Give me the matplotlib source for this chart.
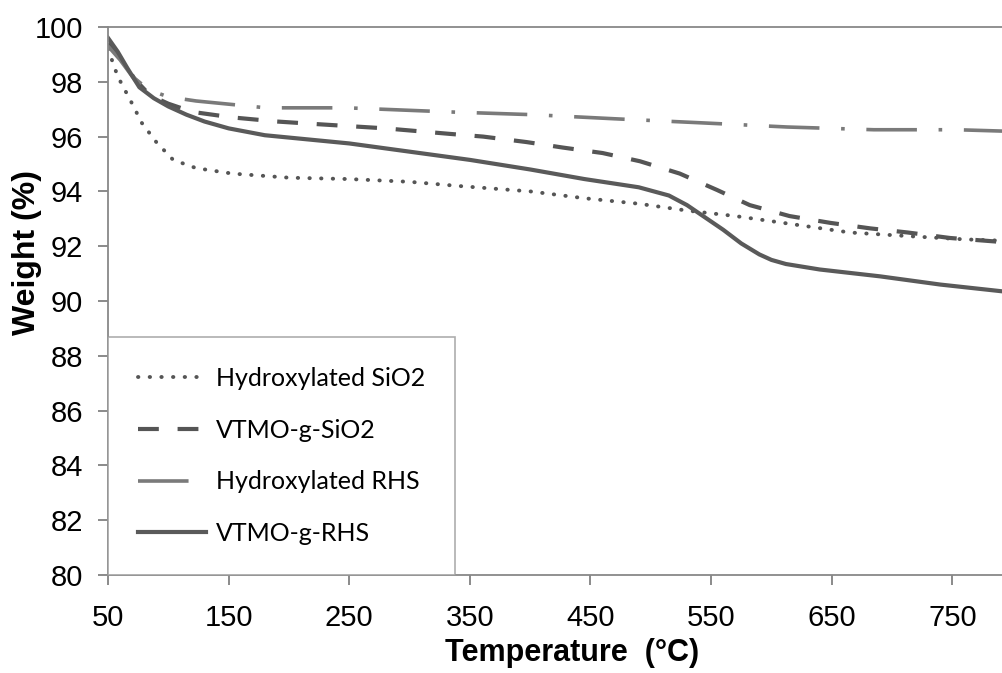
import matplotlib
matplotlib.use("Agg")
import matplotlib.pyplot as plt

# VTMO-g-RHS (solid)
rhs_g_x = [50, 58, 66, 76, 88, 100, 115, 130, 150, 180, 215, 250, 300, 350, 400, 445, 490,
           515, 530, 545, 560, 575, 590, 600, 612, 640, 690, 740, 792]
rhs_g_y = [99.6, 99.1, 98.5, 97.8, 97.4, 97.1, 96.8, 96.55, 96.3, 96.05, 95.9, 95.75, 95.45,
           95.15, 94.8, 94.45, 94.15, 93.85, 93.5, 93.05, 92.6, 92.1, 91.7, 91.5, 91.35,
           91.15, 90.9, 90.6, 90.35]

# Hydroxylated SiO2 (dotted)
sio2_x = [50, 58, 64, 70, 78, 90, 104, 123, 153, 200, 250, 300, 340, 400, 445, 490, 530,
          570, 610, 665, 720, 760, 792]
sio2_y = [99.2, 98.2, 97.7, 97.2, 96.5, 95.8, 95.15, 94.85, 94.65, 94.5, 94.45, 94.35, 94.2,
          94.0, 93.75, 93.55, 93.3, 93.1, 92.85, 92.5, 92.35, 92.25, 92.2]

# VTMO-g-SiO2 (dashed)
sio2_g_x = [50, 58, 65, 72, 85, 100, 120, 153, 190, 225, 280, 333, 361, 397, 427, 460, 491,
            524, 555, 582, 615, 649, 682, 713, 748, 792]
sio2_g_y = [99.4, 99.0, 98.6, 98.1, 97.5, 97.2, 96.9, 96.7, 96.55, 96.45, 96.3, 96.1, 96.0,
            95.8, 95.6, 95.4, 95.1, 94.65, 94.05, 93.5, 93.1, 92.85, 92.65, 92.5, 92.3, 92.15]

# Hydroxylated RHS (dash-dot)
rhs_x = [50, 60, 70, 84, 100, 123, 181, 248, 333, 402, 470, 543, 613, 685, 754, 792]
rhs_y = [99.3, 98.8, 98.2, 97.7, 97.45, 97.3, 97.05, 97.05, 96.9, 96.8, 96.65, 96.5, 96.35,
         96.25, 96.25, 96.2]

xticks = [50, 150, 250, 350, 450, 550, 650, 750]
yticks = list(range(80, 101, 2))

plt.rcParams['font.family'] = ['Liberation Sans', 'DejaVu Sans']

fig = plt.figure(figsize=(10.03, 6.73), dpi=100)
ax = fig.add_axes([0.1077, 0.1456, 0.8923, 0.8143])

l1, = ax.plot(sio2_x, sio2_y, color='#555555', lw=2.8, dashes=(0.1, 2.9),
              dash_capstyle='round', label='Hydroxylated SiO2')
l2, = ax.plot(sio2_g_x, sio2_g_y, color='#555555', lw=3.0, dashes=(5, 4.5),
              label='VTMO-g-SiO2')
l3, = ax.plot(rhs_x, rhs_y, color='#7a7a7a', lw=2.6, dashes=(14, 6, 1, 6),
              label='Hydroxylated RHS')
l4, = ax.plot(rhs_g_x, rhs_g_y, color='#5a5a5a', lw=3.0, label='VTMO-g-RHS')

ax.set_xlim(50, 792)
ax.set_ylim(80, 100)
ax.set_xticks(xticks)
ax.set_yticks(yticks)
ax.tick_params(direction='out', length=7, width=1.2, color='#777777', labelsize=21)
ax.tick_params(axis='y', pad=11)
ax.tick_params(axis='x', pad=14)

for s in ['left', 'bottom', 'top']:
    ax.spines[s].set_color('#888888')
    ax.spines[s].set_linewidth(1.3)
ax.spines['right'].set_visible(False)

ax.set_xlabel('Temperature  (°C)', fontsize=22, fontweight='bold')
ax.set_ylabel('Weight (%)', fontsize=23, fontweight='bold')
ax.xaxis.set_label_coords(0.518, -0.115)
ax.yaxis.set_label_coords(-0.074, 0.588)

leg = ax.legend(handles=[l1, l2, l3, l4], loc='lower left', bbox_to_anchor=(0, 0),
                prop={'family': 'Lato', 'size': 18}, frameon=True, fancybox=False,
                handlelength=2.7, handletextpad=0.4, labelspacing=1.15,
                borderpad=1.2, borderaxespad=0)
leg.get_frame().set_edgecolor('#999999')
leg.get_frame().set_linewidth(1.2)

fig.savefig('out.png', dpi=100)
